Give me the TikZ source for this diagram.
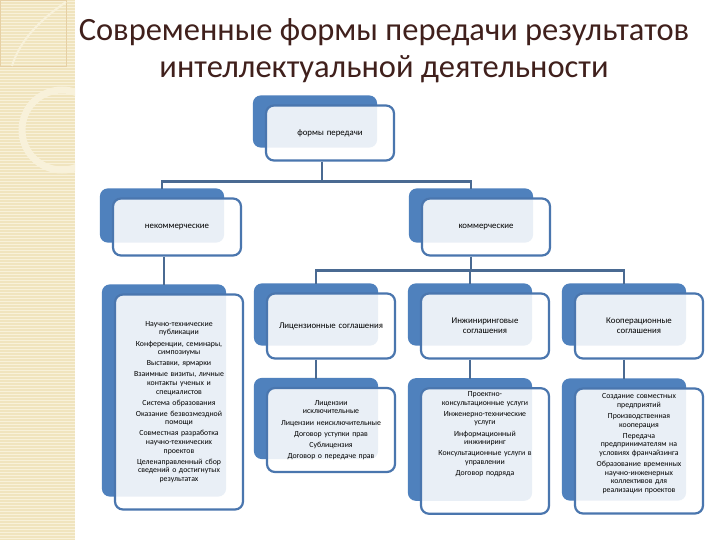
\documentclass[tikz,border=0pt]{standalone}
\usepackage{fontspec}
\setmainfont{Carlito}
\usetikzlibrary{backgrounds}
\definecolor{boxback}{HTML}{4F81BD}
\definecolor{boxline}{HTML}{4A76AE}
\definecolor{linkcol}{HTML}{4A6A92}
\definecolor{titlecol}{HTML}{40201C}
\definecolor{stripbg}{HTML}{F0E4BE}
\definecolor{stripln}{HTML}{F8F1DA}
\newcommand\pushup[1]{\rule[-#1]{0pt}{0pt}}

\begin{document}
\begin{tikzpicture} [
  x=1pt,
  y=-1pt,
  box/.style={draw=boxline, line width=2.2pt, fill=white, fill opacity=0.88,
    text opacity=1, rounded corners=8pt, align=center, text width=118pt,
    inner xsep=5pt, font=\fontsize{7.8}{8.6}\selectfont},
  head/.style={box, font=\fontsize{8.8}{9.8}\selectfont},
  back/.style={fill=boxback, rounded corners=8pt},
  link/.style={draw=linkcol, line width=2.6pt}
  ]
  \useasboundingbox (0,0) rectangle (720,540);

  \node(title)[text=titlecol, font=\fontsize{32.5}{37}\selectfont, align=center, at={(384,51)}]{Современные формы передачи результатов\\интеллектуальной деятельности};

  \node(forms)[head, at={(330,133)}, minimum height=55pt]{формы передачи};
  \node(noncom)[head, at={(177,227)}, minimum height=57pt]{некоммерческие};
  \node(com)[head, at={(486,227)}, minimum height=57pt]{коммерческие};
  \node(noncom-list)[box, at={(179,402)}, minimum height=215pt]{Научно-технические\\публикации\\[2.5pt]
    Конференции, семинары,\\симпозиумы\\[2.5pt]
    Выставки, ярмарки\\[2.5pt]
    Взаимные визиты, личные\\контакты ученых и\\специалистов\\[2.5pt]
    Система образования\\[2.5pt]
    Оказание безвозмездной\\помощи\\[2.5pt]
    Совместная разработка\\научно-технических\\проектов\\[2.5pt]
    Целенаправленный сбор\\сведений о достигнутых\\результатах};
  \node(lic)[head, at={(331,326)}, minimum height=65pt]{Лицензионные соглашения};
  \node(eng)[head, at={(485,326)}, minimum height=65pt]{Инжиниринговые\\соглашения};
  \node(coop)[head, at={(639,326)}, minimum height=65pt]{Кооперационные\\соглашения};
  \node(lic-list)[box, at={(331,430)}, minimum height=84pt]{Лицензии\\исключительные\\[2.5pt]
    Лицензии неисключительные\\[2.5pt]
    Договор уступки прав\\[2.5pt]
    Сублицензия\\[2.5pt]
    Договор о передаче прав};
  \node(eng-list)[box, at={(485,451)}, minimum height=125pt]{Проектно-\\консультационные услуги\\[2.5pt]
    Инженерно-технические\\услуги\\[2.5pt]
    Информационный\\инжиниринг\\[2.5pt]
    Консультационные услуги в\\управлении\\[2.5pt]
    Договор подряда\pushup{35pt}};
  \node(coop-list)[box, at={(639,451)}, minimum height=125pt]{Создание совместных\\предприятий\\[2.5pt]
    Производственная\\кооперация\\[2.5pt]
    Передача\\предпринимателям на\\условиях франчайзинга\\[2.5pt]
    Образование временных\\научно-инженерных\\коллективов для\\реализации проектов\pushup{16pt}};

  \draw[link] ([xshift=-8pt]forms.south) -- ++(0,20) coordinate (hub1);
  \draw[link] (hub1) -| ([shift={(-15pt,8pt)}]noncom.north);
  \draw[link] (hub1) -| ([shift={(-15pt,8pt)}]com.north);
  \draw[link] ([xshift=-15pt]com.south) -- ++(0,14) coordinate (hub2);
  \draw[link] (hub2) -| ([shift={(-15pt,8pt)}]lic.north);
  \draw[link] (hub2) -| ([shift={(-15pt,8pt)}]eng.north);
  \draw[link] (hub2) -| ([shift={(-15pt,8pt)}]coop.north);
  \draw[link] ([xshift=-13pt]noncom.south) -- ([shift={(-15pt,8pt)}]noncom-list.north);
  \draw[link] ([xshift=-15pt]lic.south) -- ([shift={(-15pt,8pt)}]lic-list.north);
  \draw[link] ([xshift=-15pt]eng.south) -- ([shift={(-15pt,8pt)}]eng-list.north);
  \draw[link] ([xshift=-15pt]coop.south) -- ([shift={(-15pt,8pt)}]coop-list.north);

  \begin{scope}[on background layer]
    \fill[white] (0,0) rectangle (720,540);
    \fill[stripbg] (0,0) rectangle (75,540);
    \foreach \y in {1.5,4.5,...,540} \draw[stripln, line width=1pt] (0,\y) -- (75,\y);
    \begin{scope}
      \clip (0,0) rectangle (75,540);
      \draw[stripln, line width=7pt] (62,130) circle (40);
      \draw[stripbg!80!brown, line width=0.6pt] (0,0) rectangle (66,66);
      \draw[stripln, line width=2pt] (66,2) .. controls (40,20) and (20,40) .. (12,66);
    \end{scope}
    \foreach \n in {forms, noncom, com, noncom-list, lic, eng, coop, lic-list, eng-list, coop-list}
      \fill[back] ([shift={(-12pt,9pt)}]\n.north west) rectangle ([shift={(-18pt,14pt)}]\n.south east);
  \end{scope}
\end{tikzpicture}
\end{document}
